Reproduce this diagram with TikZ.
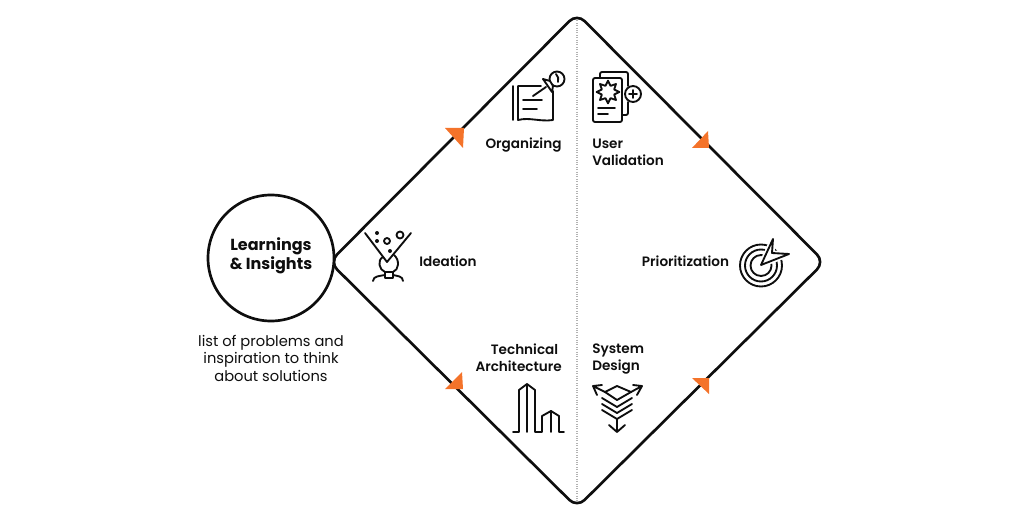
\documentclass[tikz,border=0pt]{standalone}
\usepackage{fontspec}
\setmainfont{Poppins}
\newfontfamily\semibold{Poppins SemiBold}
\newfontfamily\heavy{Poppins Bold}
\usetikzlibrary{positioning, shapes.geometric}
\definecolor{ink}{HTML}{0E0E0E}
\definecolor{accent}{HTML}{F4732A}
\tikzset{
    hub/.style={circle, draw, line width=2pt, minimum size=94.5pt, inner sep=0pt},
    hub text/.style={inner sep=0pt, align=center, font=\heavy\fontsize{12}{14.3}\selectfont},
    step label/.style={inner sep=0pt, font=\semibold\fontsize{10.2}{12.8}\selectfont},
    note/.style={inner sep=0pt, align=center, font=\fontsize{11}{13.1}\selectfont},
    track/.style={line width=2pt, line join=round},
    divider/.style={gray!60, line width=0.8pt, densely dotted},
    marker/.style={fill=accent, draw=none},
    icon/.style={line width=1.4pt, line join=round, line cap=round},
}
\begin{document}
\begin{tikzpicture}[x=0.75pt, y=-0.75pt, color=ink]
    \useasboundingbox (0,0) rectangle (1015,517);
    % Corners
    \coordinate (left) at (329.5,262);
    \coordinate (top) at (577,13.5);
    \coordinate (right) at (824.5,262);
    \coordinate (bottom) at (577,507.5);
    \coordinate (divtop) at (577,18);
    \coordinate (divbottom) at (577,503);

    % Divider and diamond
    \draw[divider] (divtop) -- (divbottom);
    \draw[track, rounded corners=8pt] (left) -- (top) -- (right) -- (bottom) -- cycle;

    % Markers
    \fill[marker] (445,128) -- (464,128) -- (463,148) -- cycle;
    \fill[marker] (708,131) -- (692,148) -- (709,148) -- cycle;
    \fill[marker] (462,372) -- (445,389) -- (463,389) -- cycle;
    \fill[marker] (692,378) -- (709,378) -- (709,394) -- cycle;

    % Hub
    \node[hub, fill=white] (hub) at (271,258) {};
    \node[hub text] (hubtext) at (271,256) {Learnings\\\& Insights};
    \node[note] (sub) at (271,358) {list of problems and\\inspiration to think\\about solutions};

    % Labels
    \node[step label] (organizing) at (523.5,145.5) {Organizing};
    \node[step label, align=left, anchor=west] (validation) at (592,152.5) {User\\Validation};
    \node[step label, anchor=west] (ideation) at (419,261) {Ideation};
    \node[step label] (prioritization) at (685.5,261) {Prioritization};
    \node[step label, align=right, anchor=east] (technical) at (562,357.5) {Technical\phantom{.}\\Architecture};
    \node[step label, align=left, anchor=west] (design) at (592,359.5) {System\\Design};

    % Organizing icon
    \begin{scope}[icon]
        \draw (513,86) -- (513,120);
        \draw (541,86) -- (518,86) -- (518,120) .. controls (530,117) and (540,122) .. (553,120) -- (553,91);
        \draw (523,100) -- (542,100) (523,109) -- (537,109);
        \draw (533,96) -- (546,87);
        \draw (557,79) circle[radius=7.5];
        \draw[fill=white] (543,79) -- (550,81) -- (553,86) -- (552,92) -- cycle;
        \draw (556,74) .. controls (558,76) and (559,79) .. (558,82);
    \end{scope}

    % Validation icon
    \begin{scope}[icon]
        \draw[rounded corners=1.5pt] (600,78) -- (600,72) -- (628,72) -- (628,86);
        \draw[rounded corners=1.5pt] (628,102) -- (628,115) -- (622,115);
        \draw[rounded corners=1.5pt] (593,78) rectangle (622,122);
        \draw (633,94) circle[radius=8];
        \draw (629,94) -- (637,94) (633,90) -- (633,98);
        \node[star, star points=8, star point ratio=1.7, draw, line width=1.4pt, minimum size=17pt, inner sep=0pt] (burst) at (608,92) {};
    \end{scope}
    \begin{scope}[icon]
        \draw (598,108) -- (615,108) (598,114) -- (608,114);
    \end{scope}

    % Ideation icon
    \begin{scope}[icon]
        \draw (365,233) -- (387,262) -- (411,233);
        \draw (383,257) .. controls (377,260) and (379,270) .. (385,272) -- (393,272) .. controls (399,270) and (400,260) .. (394,255);
        \draw (385,272) -- (385,278) -- (393,278) -- (393,272);
        \draw (373,281) .. controls (373,276) and (380,276) .. (385,275);
        \draw (403,281) .. controls (403,276) and (397,276) .. (393,275);
        \fill (377,233) circle[radius=2] (377,241) circle[radius=2] (390,251) circle[radius=2];
        \draw (387,241) circle[radius=3] (400,235) circle[radius=3.5];
    \end{scope}

    % Prioritization icon
    \begin{scope}[icon]
        \draw (761,265.5) circle[radius=21];
        \draw (761,265.5) circle[radius=16];
        \draw (761,265.5) circle[radius=10.5];
        \draw[white, line width=4pt] (761,265) -- (773,239) -- (772,253) -- (789,254) -- cycle;
        \draw[fill=white] (761,265) -- (773,239) -- (772,253) -- (789,254) -- cycle;
    \end{scope}

    % Architecture icon
    \begin{scope}[icon]
        \draw (513,432) -- (519,432) -- (519,390) -- (527,384) -- (535,390) -- (535,432) -- (542,432) -- (542,416) -- (551,411) -- (559,416) -- (559,432) -- (564,432);
        \draw (527,384) -- (527,432) (551,411) -- (551,432);
    \end{scope}

    % Design icon
    \begin{scope}[icon]
        \draw (617,386) -- (631,392) -- (617,400) -- (605,392) -- cycle;
        \draw (602,398) -- (617,407) -- (632,398);
        \draw (602,404) -- (617,413) -- (632,404);
        \draw (602,410) -- (617,419) -- (632,410);
        \draw (617,419) -- (617,432) (609,425) -- (617,432) -- (625,425);
        \draw (605,392) -- (593,386) (597,395) -- (593,386) -- (602,385);
        \draw (631,392) -- (642,386) (637,395) -- (642,386) -- (633,385);
    \end{scope}
\end{tikzpicture}
\end{document}
